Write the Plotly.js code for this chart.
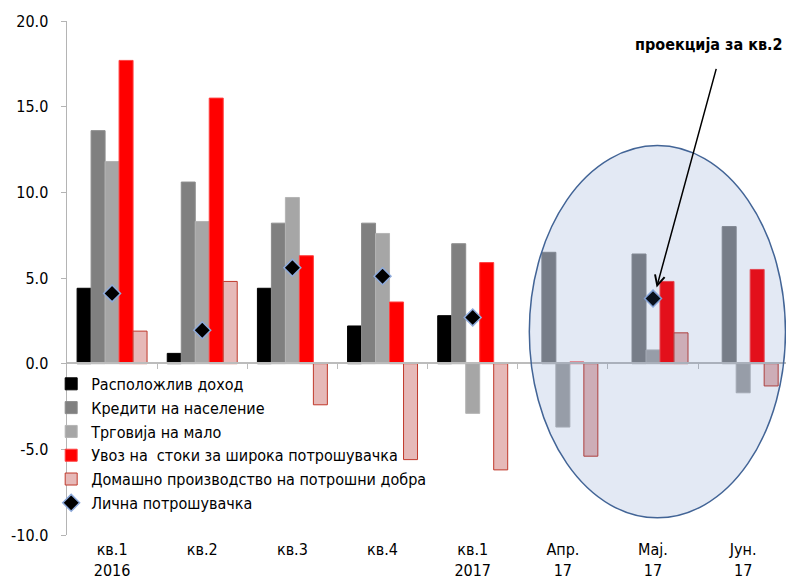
<!DOCTYPE html>
<html>
<head>
<meta charset="utf-8">
<script src="https://cdn.plot.ly/plotly-3.0.1.min.js"></script>
<style>
  html, body { margin: 0; padding: 0; background: #ffffff; }
  #chart { width: 786px; height: 581px; }
</style>
</head>
<body>
<div id="chart"></div>
<script>
// Periods on the category axis
const categories = ['кв.1<br>2016', 'кв.2', 'кв.3', 'кв.4', 'кв.1<br>2017', 'Апр.<br>17', 'Мај.<br>17', 'Јун.<br>17'];

// Indicators, annual growth, %
const disposableIncome   = [4.4, 0.6, 4.4, 2.2, 2.8, null, null, null];
const householdCredit    = [13.6, 10.6, 8.2, 8.2, 7.0, 6.5, 6.4, 8.0];
const retailTrade        = [11.8, 8.3, 9.7, 7.6, -2.9, -3.7, 0.8, -1.7];
const consumerImports    = [17.7, 15.5, 6.3, 3.6, 5.9, 0.1, 4.8, 5.5];
const domesticProduction = [1.9, 4.8, -2.4, -5.6, -6.2, -5.4, 1.8, -1.3];
const privateConsumption = [4.1, 1.95, 5.6, 5.1, 2.7, null, 3.8, null];

// Value axis ticks
const yTickValues = [-10, -5, 0, 5, 10, 15, 20];
const yTickLabels = ['-10.0', '-5.0', '0.0', '5.0', '10.0', '15.0', '20.0'];

const seriesNames = [
  'Расположлив доход',
  'Кредити на население',
  'Трговија на мало',
  'Увоз на  стоки за широка потрошувачка',
  'Домашно производство на потрошни добра',
  'Лична потрошувачка'
];

const FONT = 'DejaVu Sans Condensed, DejaVu Sans, sans-serif';

function barTrace(i, values, fill, lineColor) {
  return {
    type: 'bar', x: categories, y: values, name: seriesNames[i],
    legendgroup: 'g' + i,
    marker: { color: fill, line: { color: lineColor, width: 1 } },
    hoverinfo: 'x+y'
  };
}

const traces = [
  barTrace(0, disposableIncome, '#000000', '#000000'),
  barTrace(1, householdCredit, '#808080', '#8c8c8c'),
  barTrace(2, retailTrade, '#a6a6a6', '#b4b4b4'),
  barTrace(3, consumerImports, '#ff0000', '#ff4040'),
  barTrace(4, domesticProduction, '#e6b9b8', '#c0392b'),
  {
    type: 'scatter', mode: 'markers', x: categories, y: privateConsumption,
    name: seriesNames[5], legendgroup: 'g5',
    marker: { symbol: 'diamond', size: 13, color: '#000000',
              line: { color: '#8eaadb', width: 1.5 } },
    hoverinfo: 'x+y'
  }
];

const layout = {
  width: 786, height: 581,
  margin: { l: 67, r: 0, t: 21, b: 46 },
  paper_bgcolor: '#ffffff', plot_bgcolor: 'rgba(0,0,0,0)',
  font: { family: FONT, size: 16, color: '#000000' },
  barmode: 'group', bargap: 0.224, bargroupgap: 0,
  showlegend: true,
  legend: {
    x: -0.022, y: 0.327, xanchor: 'left', yanchor: 'top',
    bgcolor: 'rgba(0,0,0,0)',
    font: { family: FONT, size: 16, color: '#000000' },
    traceorder: 'grouped', tracegroupgap: 0,
    itemwidth: 30
  },
  xaxis: {
    type: 'category', range: [-0.5, 7.475],
    showline: false, ticks: '', showgrid: false, zeroline: false,
    tickfont: { family: FONT, size: 16 },
    ticklabelstandoff: 3
  },
  xaxis2: {
    overlaying: 'x', anchor: 'free', position: 0.3346, side: 'bottom',
    range: [-0.5, 7.475], showline: true, linecolor: '#bcbcbc', linewidth: 2,
    ticks: 'outside', ticklen: 5, tickcolor: '#bcbcbc', tickwidth: 1,
    tickmode: 'array', tickvals: [0.5, 1.5, 2.5, 3.5, 4.5, 5.5, 6.5],
    showticklabels: false, showgrid: false, zeroline: false
  },
  yaxis: {
    range: [-10, 20],
    tickmode: 'array', tickvals: yTickValues, ticktext: yTickLabels,
    showline: true, linecolor: '#b4b4b4', linewidth: 1.5,
    ticks: 'outside', ticklen: 5, tickcolor: '#b4b4b4',
    showgrid: false, zeroline: false,
    tickfont: { family: FONT, size: 16 },
    ticklabelstandoff: 9
  },
  shapes: [{
    type: 'circle', layer: 'above', xref: 'x', yref: 'y',
    x0: 4.628, x1: 7.469, y0: -9.0, y1: 12.73,
    fillcolor: 'rgba(68,108,180,0.15)',
    line: { color: 'rgb(66,100,150)', width: 1.5 }
  }],
  annotations: [
    {
      xref: 'paper', yref: 'paper', x: 0.893, y: 0.955,
      xanchor: 'center', yanchor: 'middle', showarrow: false,
      text: '<b>проекција за кв.2</b>',
      font: { family: FONT, size: 16, color: '#000000' }
    },
    {
      xref: 'x', yref: 'y', x: 6.04, y: 4.45,
      ax: 60, ay: -220, axref: 'pixel', ayref: 'pixel',
      text: '', showarrow: true, arrowhead: 5, arrowsize: 1.3,
      arrowwidth: 1.5, arrowcolor: '#000000', standoff: 0
    }
  ]
};

// Bind the baseline axis to the same y so it is drawn at the zero level
traces.push({
  type: 'scatter', mode: 'markers', x: [], y: [], xaxis: 'x2', yaxis: 'y',
  showlegend: false, hoverinfo: 'skip'
});

Plotly.newPlot('chart', traces, layout, { displayModeBar: false, staticPlot: true });
</script>
</body>
</html>
